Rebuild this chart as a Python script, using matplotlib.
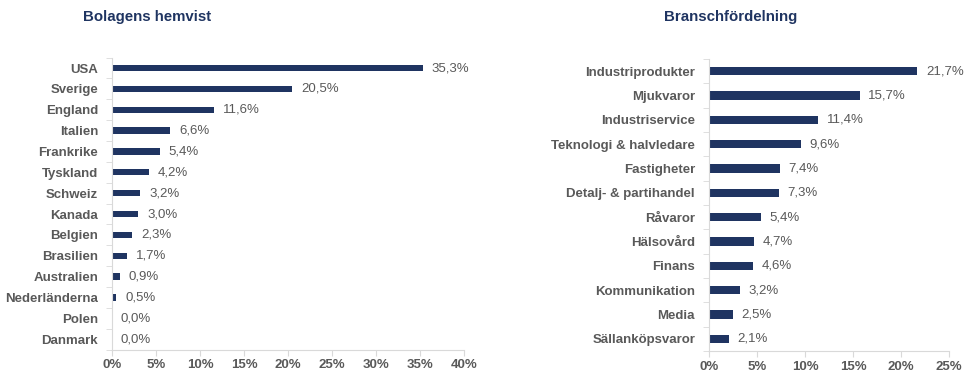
import matplotlib.pyplot as plt
from matplotlib.ticker import FixedLocator

plt.rcParams['font.family'] = ['Liberation Sans', 'DejaVu Sans']

lander = ['USA', 'Sverige', 'England', 'Italien', 'Frankrike', 'Tyskland', 'Schweiz',
          'Kanada', 'Belgien', 'Brasilien', 'Australien', 'Nederländerna', 'Polen', 'Danmark']
lander_andel = [35.3, 20.5, 11.6, 6.6, 5.4, 4.2, 3.2, 3.0, 2.3, 1.7, 0.9, 0.5, 0.0, 0.0]

branscher = ['Industriprodukter', 'Mjukvaror', 'Industriservice', 'Teknologi & halvledare',
             'Fastigheter', 'Detalj- & partihandel', 'Råvaror', 'Hälsovård', 'Finans',
             'Kommunikation', 'Media', 'Sällanköpsvaror']
bransch_andel = [21.7, 15.7, 11.4, 9.6, 7.4, 7.3, 5.4, 4.7, 4.6, 3.2, 2.5, 2.1]

farg = '#1f3461'
gra = '#595959'
linje = '#d9d9d9'


def rita(ax, namn, varden, xmax, steg, hojd, titel, titel_x, offset):
    y = list(range(len(namn)))
    ax.barh(y, varden, height=hojd, color=farg)
    ax.set_ylim(len(namn) - 0.5, -0.5)
    ax.set_xlim(0, xmax)
    ax.set_yticks(y)
    ax.set_yticklabels(namn, fontsize=9.5, fontweight='bold', color=gra)
    ax.yaxis.set_minor_locator(FixedLocator([i - 0.5 for i in range(len(namn) + 1)]))
    ax.tick_params(axis='y', which='major', length=0, pad=10)
    ax.tick_params(axis='y', which='minor', length=4, color=linje)
    ticks = list(range(0, xmax + 1, steg))
    ax.set_xticks(ticks)
    ax.set_xticklabels([f'{t}%' for t in ticks], fontsize=9.5, fontweight='bold', color=gra)
    ax.tick_params(axis='x', length=4, color=linje, pad=3)
    for s in ['top', 'right']:
        ax.spines[s].set_visible(False)
    for s in ['left', 'bottom']:
        ax.spines[s].set_color(linje)
    for yi, v in zip(y, varden):
        ax.text(v + offset, yi, f'{v:.1f}%'.replace('.', ','), va='center', ha='left',
                fontsize=9.5, color=gra)
    fig.text(titel_x, 1 - 17 / 378, titel, fontsize=10.8, fontweight='bold', color='#1f3461',
             va='center', ha='left')


fig = plt.figure(figsize=(9.7, 3.78), dpi=100)
ax1 = fig.add_axes([0.1155, 0.0751, 0.3629, 0.7725])
ax2 = fig.add_axes([0.7309, 0.0714, 0.2475, 0.7726])

rita(ax1, lander, lander_andel, 40, 5, 0.3, 'Bolagens hemvist', 83 / 970, 1.0)
rita(ax2, branscher, bransch_andel, 25, 5, 0.34, 'Branschfördelning', 664 / 970, 0.9)

fig.savefig('out.png', dpi=100)
